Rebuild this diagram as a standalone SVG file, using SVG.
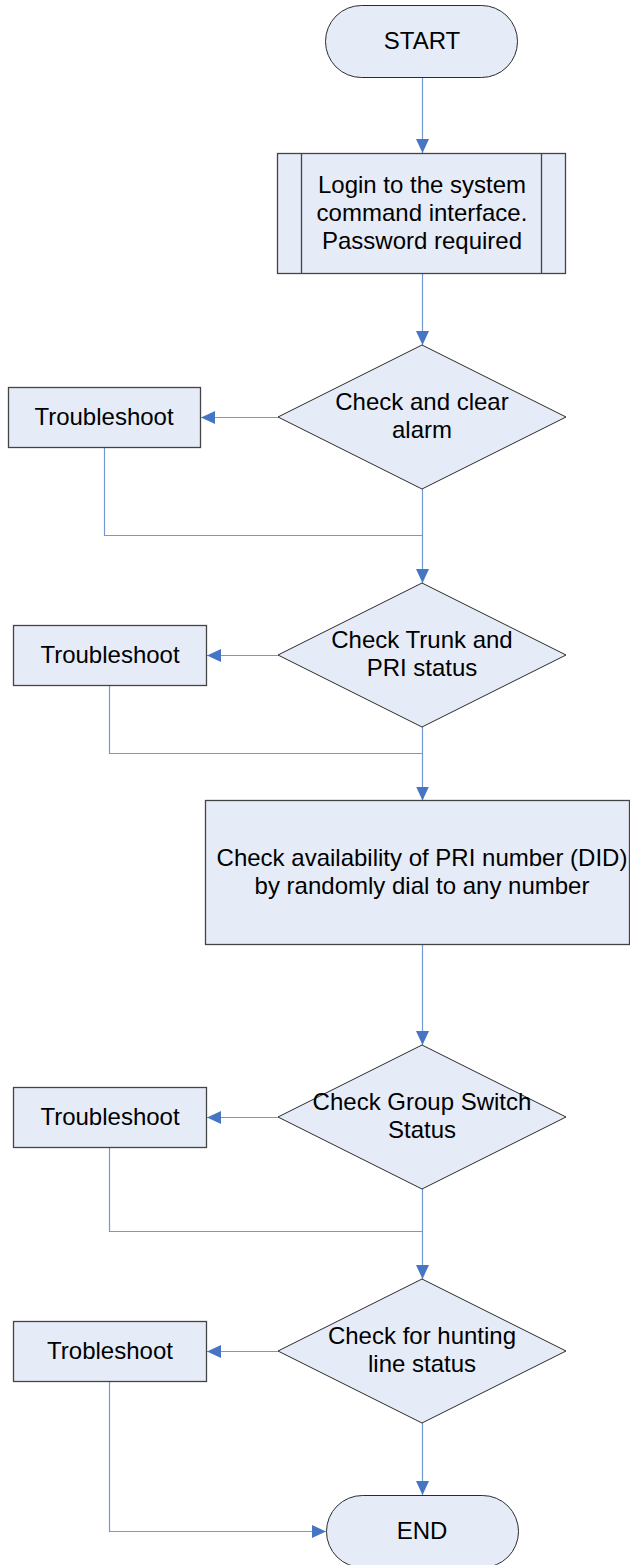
<svg xmlns="http://www.w3.org/2000/svg" width="630" height="1565" viewBox="0 0 630 1565">
  <style>
    .shape { fill: #E6ECF7; stroke: #2b2b2b; stroke-width: 1; }
    .box { fill: #E6ECF7; stroke: #444; stroke-width: 1.3; }
    .conn { fill: none; stroke: #7399D4; stroke-width: 1.2; }
    .lbl { font-family: "Liberation Sans", Arial, sans-serif; font-size: 24px; fill: #000; text-anchor: middle; }
  </style>
  <defs>
    <marker id="arrow" viewBox="0 0 14 13" refX="14" refY="6.5" markerWidth="14" markerHeight="13" markerUnits="userSpaceOnUse" orient="auto">
      <path d="M0,0 L14,6.5 L0,13 Z" fill="#4676C3"/>
    </marker>
  </defs>
  <rect width="630" height="1565" fill="#fff"/>

  <!-- connectors -->
  <g id="connectors">
    <path class="conn" d="M422.5,77.5 V153" marker-end="url(#arrow)"/>
    <path class="conn" d="M422.5,273.5 V345" marker-end="url(#arrow)"/>
    <path class="conn" d="M278,417.5 H201" marker-end="url(#arrow)"/>
    <path class="conn" d="M104.5,447.5 V535.5 H422.5"/>
    <path class="conn" d="M422.5,489 V583" marker-end="url(#arrow)"/>
    <path class="conn" d="M278,655.5 H207" marker-end="url(#arrow)"/>
    <path class="conn" d="M109.5,685.5 V753.5 H422.5"/>
    <path class="conn" d="M422.5,727 V800.5" marker-end="url(#arrow)"/>
    <path class="conn" d="M422.5,944.5 V1045" marker-end="url(#arrow)"/>
    <path class="conn" d="M278,1117.5 H207" marker-end="url(#arrow)"/>
    <path class="conn" d="M109.5,1147.5 V1231.5 H422.5"/>
    <path class="conn" d="M422.5,1189 V1279" marker-end="url(#arrow)"/>
    <path class="conn" d="M278,1351.5 H207" marker-end="url(#arrow)"/>
    <path class="conn" d="M109.5,1381.5 V1531.5 H326" marker-end="url(#arrow)"/>
    <path class="conn" d="M422.5,1423 V1495" marker-end="url(#arrow)"/>
  </g>

  <g id="start">
    <rect class="shape" x="325.5" y="5.5" width="192" height="72" rx="36" ry="36"/>
    <text class="lbl" x="422" y="49">START</text>
  </g>

  <g id="login">
    <rect class="box" x="277.5" y="153.5" width="288" height="120"/>
    <line x1="301.5" y1="153.5" x2="301.5" y2="273.5" stroke="#444" stroke-width="1.3"/>
    <line x1="541.5" y1="153.5" x2="541.5" y2="273.5" stroke="#444" stroke-width="1.3"/>
    <text class="lbl" x="422" y="193">Login to the system</text>
    <text class="lbl" x="422" y="221">command interface.</text>
    <text class="lbl" x="422" y="249">Password required</text>
  </g>

  <g id="check-alarm">
    <polygon class="shape" points="422,345 566,417 422,489 278,417"/>
    <text class="lbl" x="422" y="410">Check and clear</text>
    <text class="lbl" x="422" y="438">alarm</text>
  </g>

  <g id="troubleshoot-1">
    <rect class="box" x="8.5" y="387.5" width="192" height="60"/>
    <text class="lbl" x="104" y="425">Troubleshoot</text>
  </g>

  <g id="check-trunk">
    <polygon class="shape" points="422,583 566,655 422,727 278,655"/>
    <text class="lbl" x="422" y="648">Check Trunk and</text>
    <text class="lbl" x="422" y="676">PRI status</text>
  </g>

  <g id="troubleshoot-2">
    <rect class="box" x="13.5" y="625.5" width="193" height="60"/>
    <text class="lbl" x="110" y="663">Troubleshoot</text>
  </g>

  <g id="check-pri">
    <rect class="box" x="205.5" y="800.5" width="424" height="144"/>
    <text class="lbl" x="422" y="866">Check availability of PRI number (DID)</text>
    <text class="lbl" x="422" y="894">by randomly dial to any number</text>
  </g>

  <g id="check-group-switch">
    <polygon class="shape" points="422,1045 566,1117 422,1189 278,1117"/>
    <text class="lbl" x="422" y="1110">Check Group Switch</text>
    <text class="lbl" x="422" y="1138">Status</text>
  </g>

  <g id="troubleshoot-3">
    <rect class="box" x="13.5" y="1087.5" width="193" height="60"/>
    <text class="lbl" x="110" y="1125">Troubleshoot</text>
  </g>

  <g id="check-hunting">
    <polygon class="shape" points="422,1279 566,1351 422,1423 278,1351"/>
    <text class="lbl" x="422" y="1344">Check for hunting</text>
    <text class="lbl" x="422" y="1372">line status</text>
  </g>

  <g id="troubleshoot-4">
    <rect class="box" x="13.5" y="1321.5" width="193" height="60"/>
    <text class="lbl" x="110" y="1359">Trobleshoot</text>
  </g>

  <g id="end">
    <rect class="shape" x="326.5" y="1495.5" width="192" height="72" rx="36" ry="36"/>
    <text class="lbl" x="422" y="1539">END</text>
  </g>
</svg>
